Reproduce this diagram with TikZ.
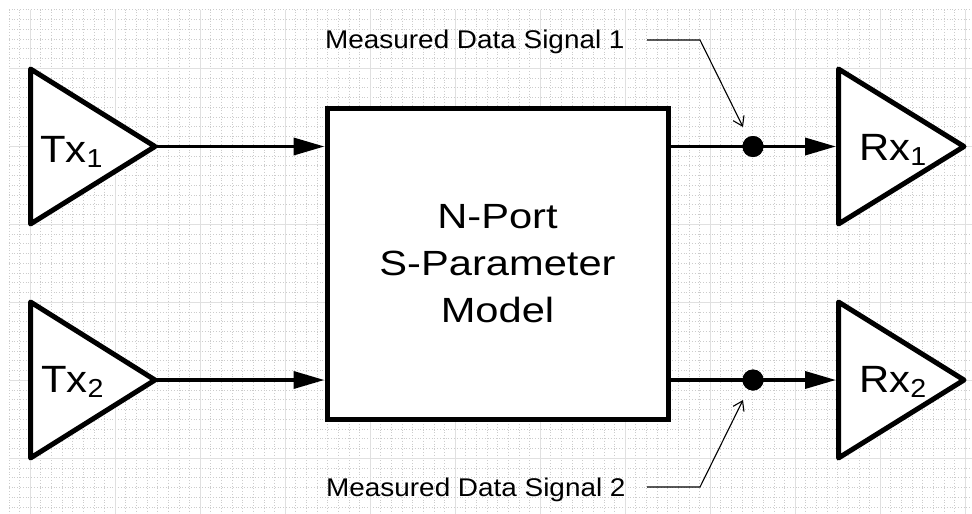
\documentclass[tikz,border=0pt]{standalone}
\usepackage{fontspec}
\setmainfont{Liberation Sans}
\newfontfamily\lblfont[FakeStretch=1.09]{Liberation Sans}
\newfontfamily\boxfont[FakeStretch=1.19]{Liberation Sans}
\newfontfamily\trxfont[FakeStretch=1.1]{Liberation Sans}
\usetikzlibrary{arrows.meta}
\begin{document}
\begin{tikzpicture}[x=1pt,y=-1pt,
  minorgrid/.style={draw=black!20, line width=0.5pt, dash pattern=on 0.8pt off 2pt},
  majorgrid/.style={draw=black!12, line width=0.7pt},
  amp/.style={draw=black, fill=white, line width=5pt, line join=round},
  wire/.style={draw=black, line width=3.6pt, -{Triangle[length=31pt,width=17pt]}},
  leader/.style={draw=black, line width=1.1pt, -{Straight Barb[length=9pt,width=12pt]}},
  trxlbl/.style={anchor=base west, inner sep=0pt, font=\trxfont\fontsize{38}{40}\selectfont},
  siglbl/.style={anchor=base west, inner sep=0pt, font=\lblfont\fontsize{25.6}{30}\selectfont},
  modelbox/.style={draw=black, fill=white, line width=5pt, minimum width=341pt, minimum height=311pt, inner sep=0pt, align=center, font=\boxfont\fontsize{35}{47}\selectfont},
  probe/.style={circle, fill=black, inner sep=0pt, minimum size=21pt}
]
\useasboundingbox (0,0) rectangle (972,514);
\fill[white] (0,0) rectangle (972,514);
% grid
\foreach \i in {0,...,90} { \draw[minorgrid] ({8.75+\i*10.625},9.5) -- ({8.75+\i*10.625},514); }
\foreach \j in {0,...,51} { \draw[minorgrid] (8.75,{9.5+\j*9.75}) -- (972,{9.5+\j*9.75}); }
\foreach \i in {0,...,11} { \draw[majorgrid] ({30+\i*85},9.5) -- ({30+\i*85},514); }
\foreach \j in {0,...,5} { \draw[majorgrid] (8.75,{68+\j*78}) -- (972,{68+\j*78}); }

% amplifiers
\coordinate (tx1out) at (155,146.5);
\coordinate (tx2out) at (155,380);
\coordinate (rx1in) at (836,146.5);
\coordinate (rx2in) at (836,380);
\draw[amp] (30.5,69) -- (tx1out) -- (30.5,224) -- cycle;
\draw[amp] (30.5,302) -- (tx2out) -- (30.5,458) -- cycle;
\draw[amp] (838.5,69) -- (964,146.5) -- (838.5,224) -- cycle;
\draw[amp] (838.5,302) -- (964,380) -- (838.5,458) -- cycle;

\node[trxlbl] (tx1) at (40,162) {Tx\raisebox{-5pt}{\fontsize{26}{26}\selectfont 1}};
\node[trxlbl] (tx2) at (41,392) {Tx\raisebox{-5pt}{\fontsize{26}{26}\selectfont 2}};
\node[trxlbl] (rx1) at (859,160) {Rx\raisebox{-5pt}{\fontsize{26}{26}\selectfont 1}};
\node[trxlbl] (rx2) at (859,392) {Rx\raisebox{-5pt}{\fontsize{26}{26}\selectfont 2}};

% model
\node[modelbox] (model) at (497.5,263.5) {N-Port\\S-Parameter\\Model};

% wires
\draw[wire] (tx1out) -- (model.west |- tx1out);
\draw[wire] (tx2out) -- (model.west |- tx2out);
\node[probe] (dot1) at (753,146.5) {};
\node[probe] (dot2) at (753,380) {};
\draw[wire] (model.east |- dot1) -- (rx1in);
\draw[wire] (model.east |- dot2) -- (rx2in);
\node[probe] at (dot1) {};
\node[probe] at (dot2) {};

% labels and leaders
\node[siglbl] (sig1) at (325,48) {Measured Data Signal 1};
\node[siglbl] (sig2) at (326,496) {Measured Data Signal 2};
\coordinate (l1a) at (647,40);
\coordinate (l1b) at (700,40);
\coordinate (l1c) at (743,127);
\coordinate (l2a) at (647,487);
\coordinate (l2b) at (700,487);
\coordinate (l2c) at (743,400);
\draw[leader] (l1a) -- (l1b) -- (l1c);
\draw[leader] (l2a) -- (l2b) -- (l2c);
\end{tikzpicture}
\end{document}
